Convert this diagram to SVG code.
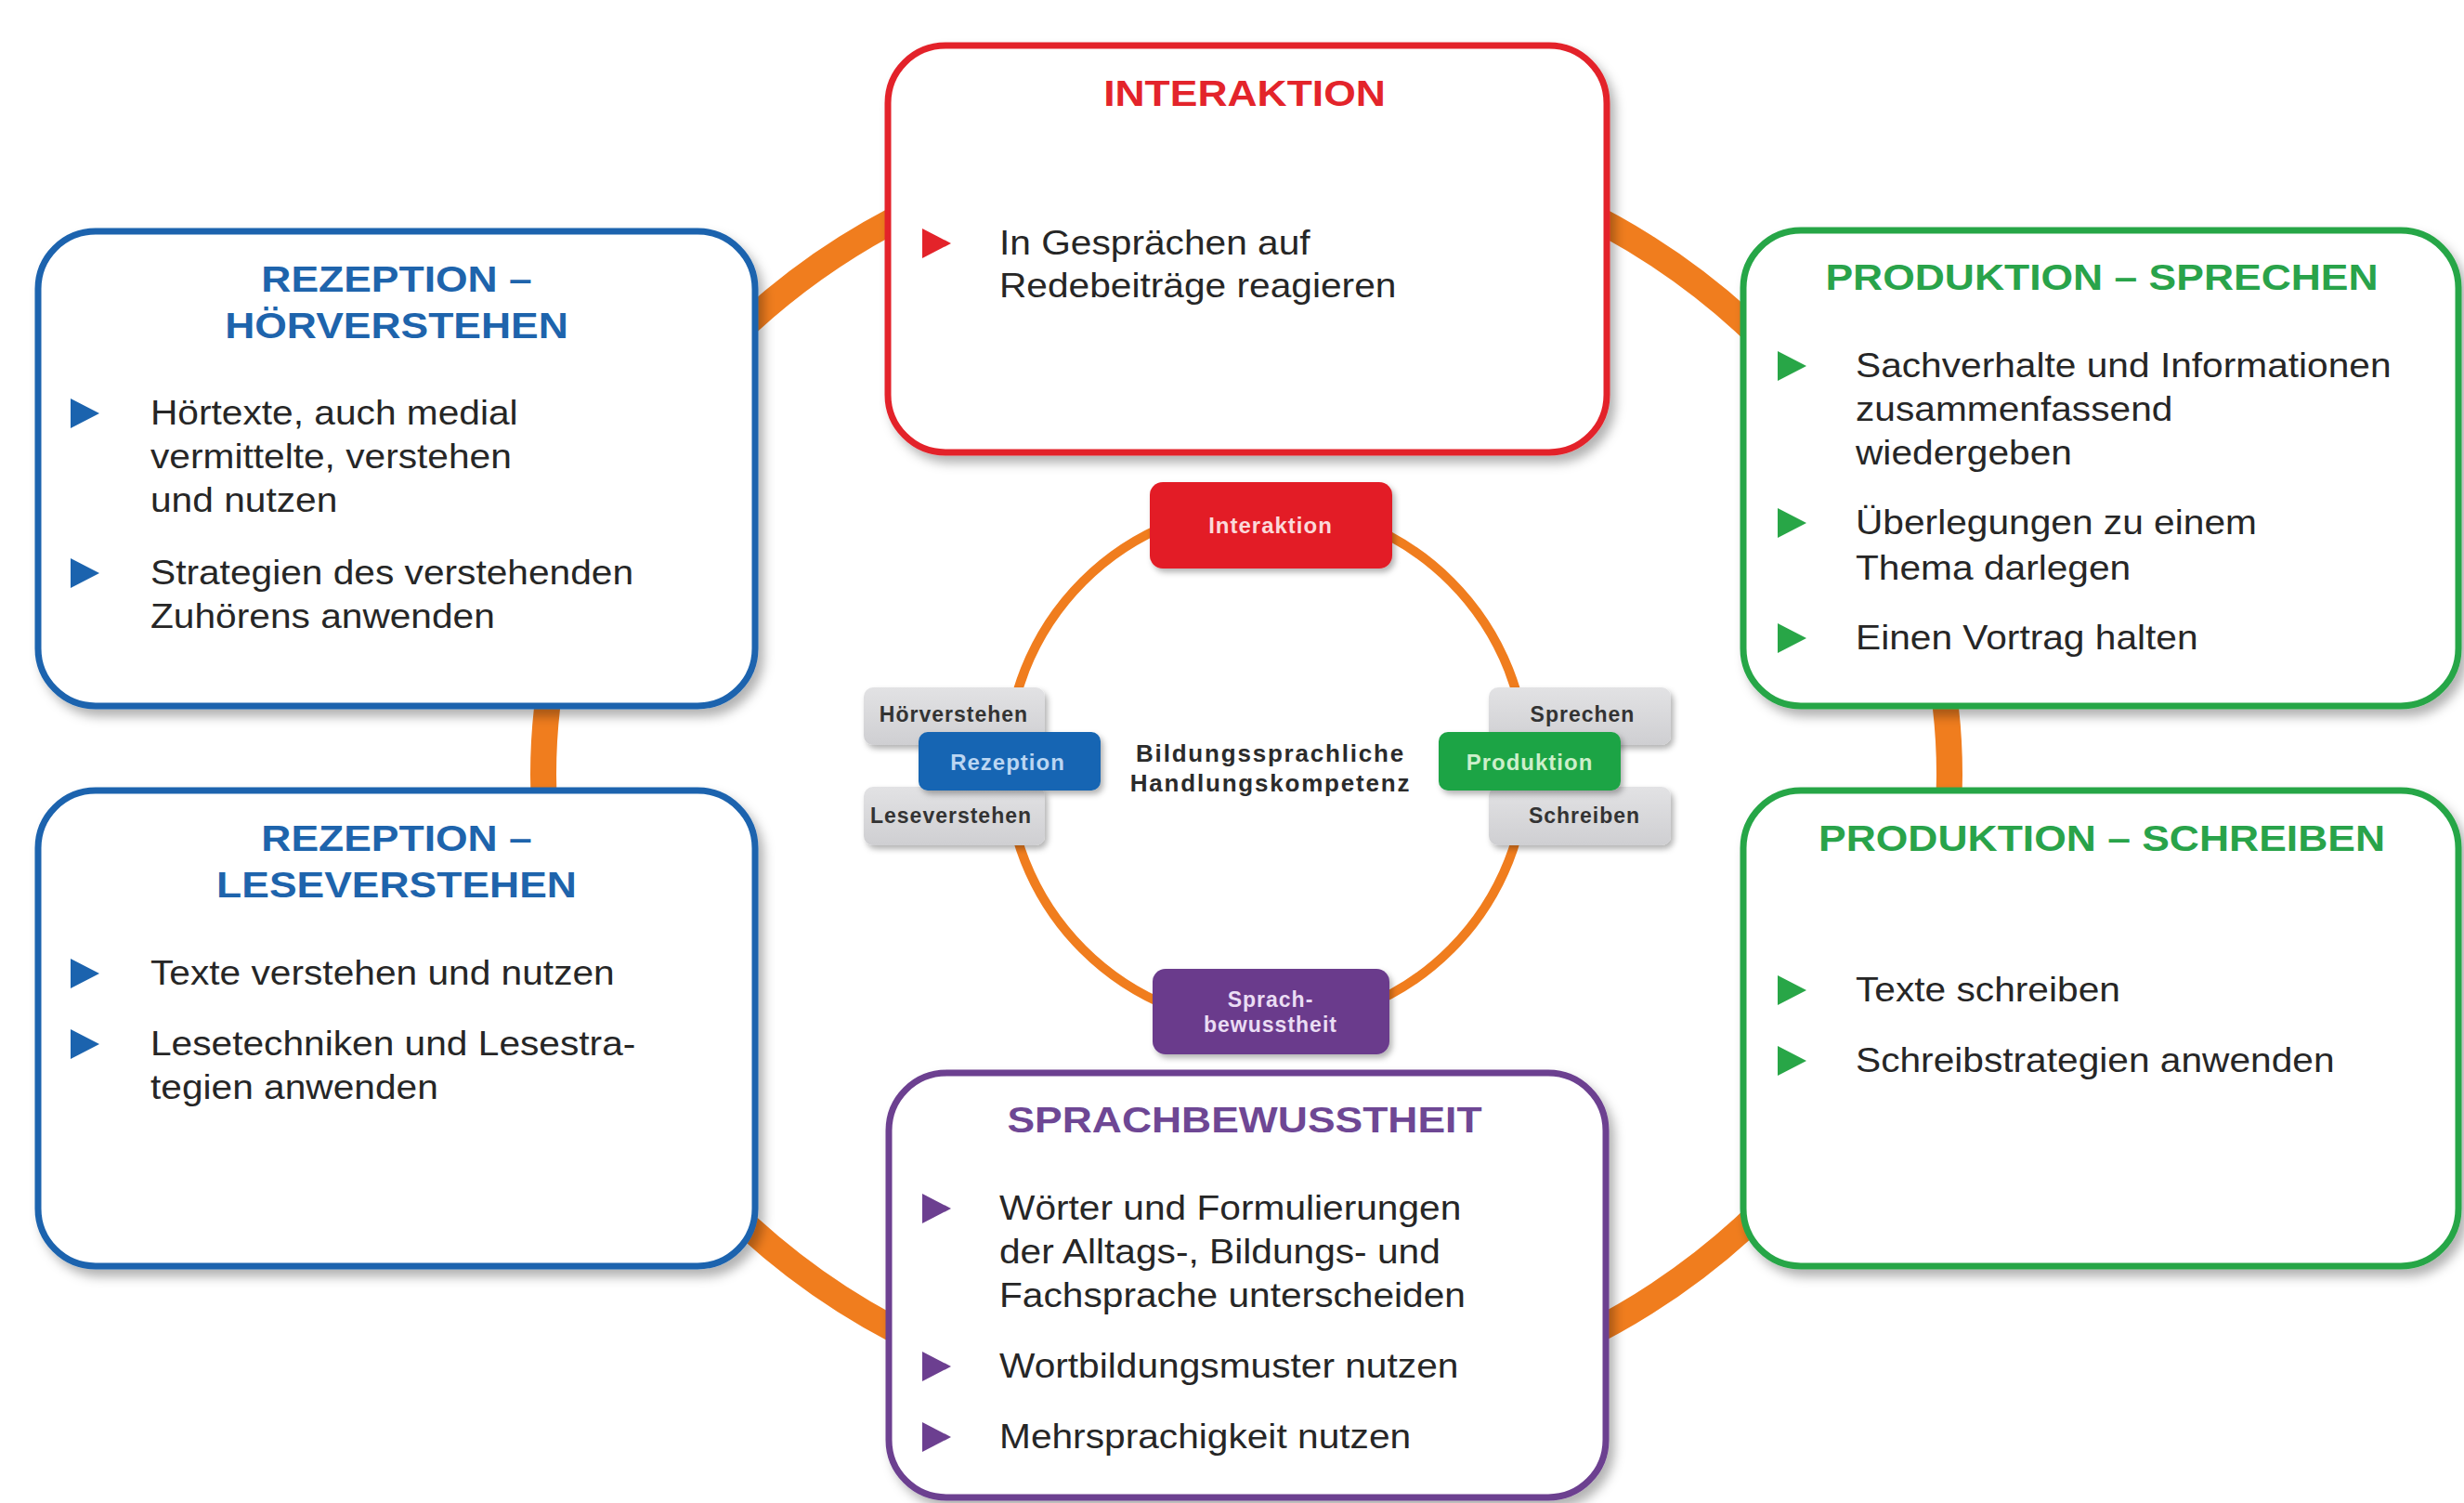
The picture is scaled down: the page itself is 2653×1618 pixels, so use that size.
<svg xmlns="http://www.w3.org/2000/svg" xmlns:xlink="http://www.w3.org/1999/xlink" width="2653" height="1618" viewBox="0 0 2653 1618">
<defs>
<filter id="sh" x="-10%" y="-10%" width="125%" height="130%">
<feDropShadow dx="6" dy="8" stdDeviation="6" flood-color="#000" flood-opacity="0.3"/>
</filter>
<filter id="shs" x="-10%" y="-10%" width="125%" height="140%">
<feDropShadow dx="3" dy="4" stdDeviation="3" flood-color="#000" flood-opacity="0.3"/>
</filter>
<linearGradient id="gray" x1="0" y1="0" x2="0" y2="1">
<stop offset="0" stop-color="#E2E2E4"/>
<stop offset="1" stop-color="#CFCFD2"/>
</linearGradient>
<path id="tri" d="M0,-16 L31,0 L0,16 Z"/>
</defs>
<style>
.box{fill:#fff;stroke-width:7;filter:url(#sh)}
.blue{stroke:#1B63AE}.red{stroke:#E3232A}.green{stroke:#28A647}.purple{stroke:#6C3F90}
.title{font-family:"Liberation Sans",Arial,sans-serif;font-weight:bold;font-size:38px;text-anchor:middle}
.body{font-family:"Liberation Sans",Arial,sans-serif;font-size:36px;fill:#262626}
.mini{font-family:"Liberation Sans",Arial,sans-serif;font-weight:bold;text-anchor:middle}
.chip{filter:url(#shs)}
.grey{fill:url(#gray)}
.ring{fill:none;stroke:#F07D1E}
</style>
<rect width="2653" height="1618" fill="#fff"/>

<g id="connectors">
<ellipse class="ring" cx="1342" cy="834" rx="757" ry="690" stroke-width="28"/>
</g>

<g id="rezeption-hoerverstehen">
<rect class="box blue" x="41" y="249" width="772" height="511" rx="62"/>
<text class="title" fill="#1E64AC" transform="translate(427 314) scale(1.17 1)"><tspan x="0" y="0">REZEPTION –</tspan><tspan x="0" y="50">HÖRVERSTEHEN</tspan></text>
<use href="#tri" x="76" y="445" fill="#1B63AE"/>
<use href="#tri" x="76" y="617" fill="#1B63AE"/>
<text class="body" transform="translate(162 457) scale(1.13 1)"><tspan x="0" y="0">Hörtexte, auch medial</tspan><tspan x="0" y="47">vermittelte, verstehen</tspan><tspan x="0" y="94">und nutzen</tspan></text>
<text class="body" transform="translate(162 629) scale(1.13 1)"><tspan x="0" y="0">Strategien des verstehenden</tspan><tspan x="0" y="47">Zuhörens anwenden</tspan></text>
</g>

<g id="rezeption-leseverstehen">
<rect class="box blue" x="41" y="851" width="772" height="512" rx="62"/>
<text class="title" fill="#1E64AC" transform="translate(427 916) scale(1.17 1)"><tspan x="0" y="0">REZEPTION –</tspan><tspan x="0" y="50">LESEVERSTEHEN</tspan></text>
<use href="#tri" x="76" y="1048" fill="#1B63AE"/>
<use href="#tri" x="76" y="1124" fill="#1B63AE"/>
<text class="body" transform="translate(162 1060) scale(1.13 1)">Texte verstehen und nutzen</text>
<text class="body" transform="translate(162 1136) scale(1.13 1)"><tspan x="0" y="0">Lesetechniken und Lesestra-</tspan><tspan x="0" y="47">tegien anwenden</tspan></text>
</g>

<g id="interaktion">
<rect class="box red" x="956" y="49" width="774" height="438" rx="62"/>
<text class="title" fill="#E3242B" transform="translate(1340 114) scale(1.17 1)">INTERAKTION</text>
<use href="#tri" x="993" y="262" fill="#E3232A"/>
<text class="body" transform="translate(1076 274) scale(1.13 1)"><tspan x="0" y="0">In Gesprächen auf</tspan><tspan x="0" y="46">Redebeiträge reagieren</tspan></text>
</g>

<g id="produktion-sprechen">
<rect class="box green" x="1877" y="248" width="770" height="512" rx="62"/>
<text class="title" fill="#29A34A" transform="translate(2263 312) scale(1.17 1)">PRODUKTION – SPRECHEN</text>
<use href="#tri" x="1914" y="394" fill="#28A647"/>
<use href="#tri" x="1914" y="563" fill="#28A647"/>
<use href="#tri" x="1914" y="687" fill="#28A647"/>
<text class="body" transform="translate(1998 406) scale(1.13 1)"><tspan x="0" y="0">Sachverhalte und Informationen</tspan><tspan x="0" y="47">zusammenfassend</tspan><tspan x="0" y="94">wiedergeben</tspan></text>
<text class="body" transform="translate(1998 575) scale(1.13 1)"><tspan x="0" y="0">Überlegungen zu einem</tspan><tspan x="0" y="49">Thema darlegen</tspan></text>
<text class="body" transform="translate(1998 699) scale(1.13 1)">Einen Vortrag halten</text>
</g>

<g id="produktion-schreiben">
<rect class="box green" x="1877" y="851" width="770" height="512" rx="62"/>
<text class="title" fill="#29A34A" transform="translate(2263 916) scale(1.17 1)">PRODUKTION – SCHREIBEN</text>
<use href="#tri" x="1914" y="1066" fill="#28A647"/>
<use href="#tri" x="1914" y="1142" fill="#28A647"/>
<text class="body" transform="translate(1998 1078) scale(1.13 1)">Texte schreiben</text>
<text class="body" transform="translate(1998 1154) scale(1.13 1)">Schreibstrategien anwenden</text>
</g>

<g id="sprachbewusstheit">
<rect class="box purple" x="957" y="1155" width="772" height="457" rx="62"/>
<text class="title" fill="#6E4794" transform="translate(1340 1219) scale(1.17 1)">SPRACHBEWUSSTHEIT</text>
<use href="#tri" x="993" y="1301" fill="#6C3F90"/>
<use href="#tri" x="993" y="1471" fill="#6C3F90"/>
<use href="#tri" x="993" y="1547" fill="#6C3F90"/>
<text class="body" transform="translate(1076 1313) scale(1.13 1)"><tspan x="0" y="0">Wörter und Formulierungen</tspan><tspan x="0" y="47">der Alltags-, Bildungs- und</tspan><tspan x="0" y="94">Fachsprache unterscheiden</tspan></text>
<text class="body" transform="translate(1076 1483) scale(1.13 1)">Wortbildungsmuster nutzen</text>
<text class="body" transform="translate(1076 1559) scale(1.13 1)">Mehrsprachigkeit nutzen</text>
</g>

<g id="kompetenz-ring">
<circle class="ring" cx="1364" cy="824" r="280" stroke-width="10"/>
</g>

<g id="mini-hoerverstehen">
<rect class="chip grey" x="930" y="740" width="195" height="62" rx="10"/>
<text class="mini" x="1027" y="777" font-size="23" letter-spacing="1" fill="#333">Hörverstehen</text>
</g>
<g id="mini-leseverstehen">
<rect class="chip grey" x="930" y="847" width="195" height="63" rx="10"/>
<text class="mini" x="1024" y="886" font-size="23" letter-spacing="1" fill="#333">Leseverstehen</text>
</g>
<g id="mini-rezeption">
<rect class="chip" x="989" y="788" width="196" height="63" rx="10" fill="#1365B3"/>
<text class="mini" x="1085" y="829" font-size="24" letter-spacing="1" fill="#BBD6F2">Rezeption</text>
</g>
<g id="mini-sprechen">
<rect class="chip grey" x="1603" y="740" width="196" height="62" rx="10"/>
<text class="mini" x="1704" y="777" font-size="23" letter-spacing="1" fill="#333">Sprechen</text>
</g>
<g id="mini-schreiben">
<rect class="chip grey" x="1603" y="847" width="196" height="63" rx="10"/>
<text class="mini" x="1706" y="886" font-size="23" letter-spacing="1" fill="#333">Schreiben</text>
</g>
<g id="mini-produktion">
<rect class="chip" x="1549" y="788" width="196" height="63" rx="10" fill="#1FA445"/>
<text class="mini" x="1647" y="829" font-size="24" letter-spacing="1" fill="#CDEFCB">Produktion</text>
</g>
<g id="mini-interaktion">
<rect class="chip" x="1238" y="519" width="261" height="93" rx="14" fill="#E31E26"/>
<text class="mini" x="1368" y="574" font-size="24" letter-spacing="1" fill="#FBD9DA">Interaktion</text>
</g>
<g id="mini-sprachbewusstheit">
<rect class="chip" x="1241" y="1043" width="255" height="92" rx="14" fill="#6A3A8C"/>
<text class="mini" font-size="23" letter-spacing="1" fill="#EADDF4"><tspan x="1368" y="1084">Sprach-</tspan><tspan x="1368" y="1111">bewusstheit</tspan></text>
</g>
<g id="zentrum">
<text class="mini" font-size="26" letter-spacing="1.8" fill="#2B2B2B"><tspan x="1368" y="820">Bildungssprachliche</tspan><tspan x="1368" y="852">Handlungskompetenz</tspan></text>
</g>
</svg>
